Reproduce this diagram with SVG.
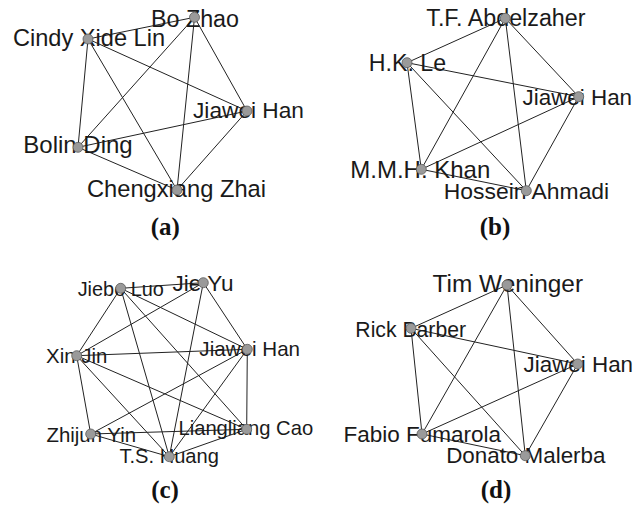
<svg xmlns="http://www.w3.org/2000/svg" width="634" height="505" viewBox="0 0 634 505">
<style>
.e{stroke:#222;stroke-width:1;fill:none}
.n{fill:#9a9a9a;stroke:#5a5a5a;stroke-width:0.8}
.t{font-family:"Liberation Sans",Arial,sans-serif;fill:#1a1a1a;text-anchor:middle}
.c{font-family:"Liberation Serif","Times New Roman",serif;font-weight:bold;font-size:25px;fill:#111;text-anchor:middle}
</style>
<rect width="634" height="505" fill="#fff"/>
<g id="connectors">
<!-- (a) -->
<path class="e" d="M194.5,17.3L88,39M194.5,17.3L247,111M194.5,17.3L78,147.3M194.5,17.3L177,190M88,39L247,111M88,39L78,147.3M88,39L177,190M247,111L78,147.3M247,111L177,190M78,147.3L177,190"/>
<!-- (b) -->
<path class="e" d="M505.3,18.3L407,62.7M505.3,18.3L578.7,96.7M505.3,18.3L421.3,169.3M505.3,18.3L526.3,190.7M407,62.7L578.7,96.7M407,62.7L421.3,169.3M407,62.7L526.3,190.7M578.7,96.7L421.3,169.3M578.7,96.7L526.3,190.7M421.3,169.3L526.3,190.7"/>
<!-- (c) -->
<path class="e" d="M120.7,288.3L203.3,282.7M120.7,288.3L76.7,355.7M120.7,288.3L247.3,349.3M120.7,288.3L246.7,429.3M120.7,288.3L169.3,456.7M203.3,282.7L76.7,355.7M203.3,282.7L247.3,349.3M203.3,282.7L169.3,456.7M76.7,355.7L247.3,349.3M76.7,355.7L90.7,434M76.7,355.7L169.3,456.7M76.7,355.7L246.7,429.3M247.3,349.3L90.7,434M247.3,349.3L169.3,456.7M247.3,349.3L246.7,429.3M90.7,434L246.7,429.3M90.7,434L169.3,456.7M169.3,456.7L246.7,429.3"/>
<!-- (d) -->
<path class="e" d="M507,285L411,328.3M507,285L577.7,364M507,285L422,434M507,285L525.3,455.7M411,328.3L577.7,364M411,328.3L422,434M411,328.3L525.3,455.7M577.7,364L422,434M577.7,364L525.3,455.7M422,434L525.3,455.7"/>
</g>
<g id="a-bo-zhao"><text class="t" x="195" y="26.5" font-size="23.3">Bo Zhao</text><circle class="n" cx="194.5" cy="17.3" r="5"/></g>
<g id="a-cindy-xide-lin"><text class="t" x="89" y="46" font-size="23.6">Cindy Xide Lin</text><circle class="n" cx="88" cy="39" r="5"/></g>
<g id="a-jiawei-han"><text class="t" x="248.5" y="118.3" font-size="22.7">Jiawei Han</text><circle class="n" cx="247" cy="111" r="5"/></g>
<g id="a-bolin-ding"><text class="t" x="78" y="153" font-size="24">Bolin Ding</text><circle class="n" cx="78" cy="147.3" r="5"/></g>
<g id="a-chengxiang-zhai"><text class="t" x="176.5" y="196.7" font-size="23.7">Chengxiang Zhai</text><circle class="n" cx="177" cy="190" r="5"/></g>

<g id="b-abdelzaher"><text class="t" x="505.9" y="26" font-size="23.3">T.F. Abdelzaher</text><circle class="n" cx="505.3" cy="18.3" r="5"/></g>
<g id="b-hk-le"><text class="t" x="407.5" y="70.7" font-size="23.2">H.K. Le</text><circle class="n" cx="407" cy="62.7" r="5"/></g>
<g id="b-jiawei-han"><text class="t" x="577.3" y="105" font-size="22.4">Jiawei Han</text><circle class="n" cx="578.7" cy="96.7" r="5"/></g>
<g id="b-mmh-khan"><text class="t" x="420.3" y="178.3" font-size="24">M.M.H. Khan</text><circle class="n" cx="421.3" cy="169.3" r="5"/></g>
<g id="b-hossein-ahmadi"><text class="t" x="526.5" y="199.3" font-size="22.9">Hossein Ahmadi</text><circle class="n" cx="526.3" cy="190.7" r="5"/></g>

<g id="c-jiebo-luo"><text class="t" x="120.8" y="296" font-size="19.9">Jiebo Luo</text><circle class="n" cx="120.7" cy="288.3" r="5"/></g>
<g id="c-jie-yu"><text class="t" x="203" y="290.7" font-size="22.5">Jie Yu</text><circle class="n" cx="203.3" cy="282.7" r="5"/></g>
<g id="c-jiawei-han"><text class="t" x="249.7" y="356" font-size="20.6">Jiawei Han</text><circle class="n" cx="247.3" cy="349.3" r="5"/></g>
<g id="c-xin-jin"><text class="t" x="76.7" y="362.7" font-size="20.4">Xin Jin</text><circle class="n" cx="76.7" cy="355.7" r="5"/></g>
<g id="c-liangliang-cao"><text class="t" x="245.8" y="435" font-size="20.2">Liangliang Cao</text><circle class="n" cx="246.7" cy="429.3" r="5"/></g>
<g id="c-zhijun-yin"><text class="t" x="91.3" y="441.7" font-size="20.4">Zhijun Yin</text><circle class="n" cx="90.7" cy="434" r="5"/></g>
<g id="c-ts-huang"><text class="t" x="169.2" y="462.7" font-size="20.1">T.S. Huang</text><circle class="n" cx="169.3" cy="456.7" r="5"/></g>

<g id="d-tim-weninger"><text class="t" x="507.8" y="291.7" font-size="24.4">Tim Weninger</text><circle class="n" cx="507" cy="285" r="5"/></g>
<g id="d-rick-barber"><text class="t" x="410.7" y="336.7" font-size="21.2">Rick Barber</text><circle class="n" cx="411" cy="328.3" r="5"/></g>
<g id="d-jiawei-han"><text class="t" x="578.3" y="371.7" font-size="22.4">Jiawei Han</text><circle class="n" cx="577.7" cy="364" r="5"/></g>
<g id="d-fabio-fumarola"><text class="t" x="422.3" y="441.7" font-size="22.5">Fabio Fumarola</text><circle class="n" cx="422" cy="434" r="5"/></g>
<g id="d-donato-malerba"><text class="t" x="525.8" y="463.3" font-size="22.4">Donato Malerba</text><circle class="n" cx="525.3" cy="455.7" r="5"/></g>

<g id="captions">
<text class="c" x="165.3" y="235">(a)</text>
<text class="c" x="495" y="235">(b)</text>
<text class="c" x="165" y="498">(c)</text>
<text class="c" x="496" y="498">(d)</text>
</g>
</svg>
